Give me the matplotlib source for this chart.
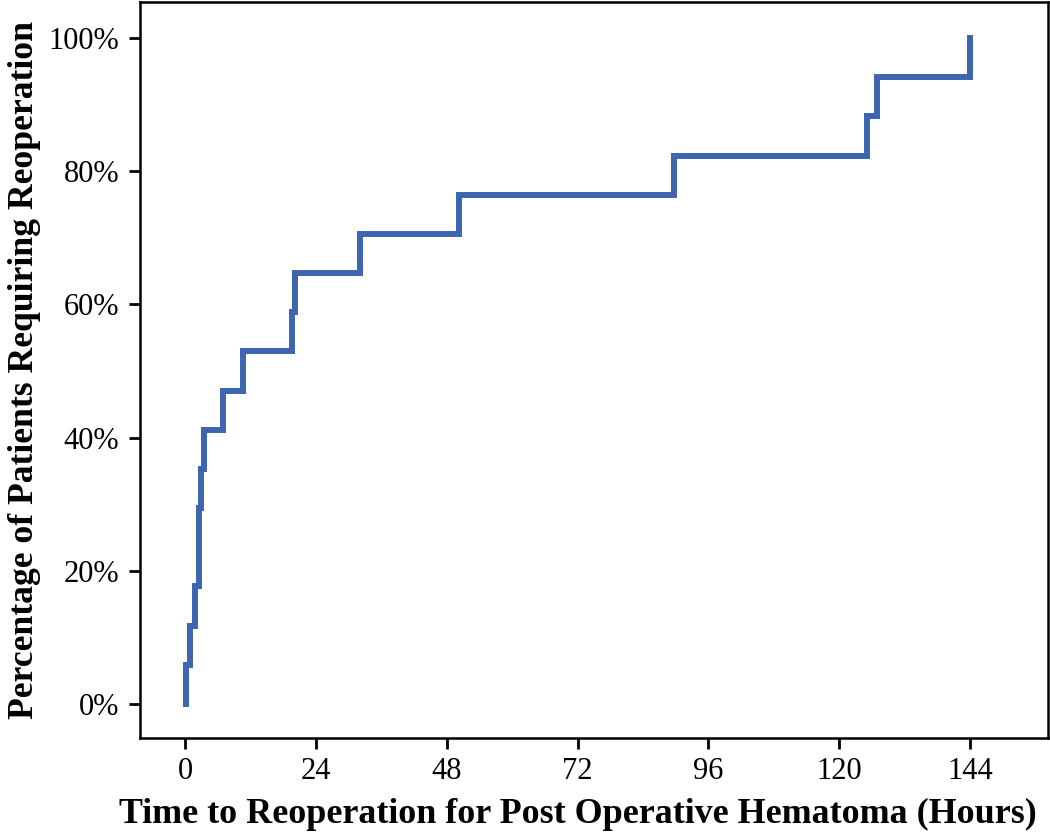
import matplotlib
matplotlib.use("Agg")
import matplotlib.pyplot as plt
import numpy as np

# Event times (hours) and number of reoperations at each time
event_times = [0.2, 1.0, 1.8, 2.6, 2.9, 3.5, 7.0, 10.6, 19.6, 20.2, 32.1, 50.3, 89.7, 125.1, 127.0, 144.0]
event_counts = [1, 1, 1, 2, 1, 1, 1, 1, 1, 1, 1, 1, 1, 1, 1, 1]
x_ticks = [0, 24, 48, 72, 96, 120, 144]
y_ticks = [0, 20, 40, 60, 80, 100]
y_tick_labels = ["0%", "20%", "40%", "60%", "80%", "100%"]

total = sum(event_counts)
cum_pct = list(np.cumsum(event_counts) / total * 100)

plt.rcParams['font.family'] = ['Liberation Serif', 'DejaVu Serif']

fig = plt.figure(figsize=(10.5, 8.35), dpi=100)
ax = fig.add_axes([140/1050, 1-738/835, (1048-140)/1050, (738-2)/835])

xs = [event_times[0]] + event_times
ys = [0] + cum_pct
ax.step(xs, ys, where='post', color='#3E65B0', linewidth=4.3, solid_joinstyle='miter')

ax.set_xlim(-8.25, 158.3)
ax.set_ylim(-5.1, 105.4)
ax.set_xticks(x_ticks)
ax.set_yticks(y_ticks)
ax.set_yticklabels(y_tick_labels)
ax.tick_params(axis='both', labelsize=22, length=8, width=2, direction='out', color='black')
ax.tick_params(axis='x', pad=6)
ax.tick_params(axis='y', pad=7)
for s in ax.spines.values():
    s.set_linewidth(1.8)
    s.set_color('black')

ax.set_xlabel("Time to Reoperation for Post Operative Hematoma (Hours)", fontsize=25.9, fontweight='bold', labelpad=8)
ax.xaxis.label.set_x(0.482)
ax.set_ylabel("Percentage of Patients Requiring Reoperation", fontsize=25.7, fontweight='bold', labelpad=5)

fig.savefig("out.png", dpi=100)
